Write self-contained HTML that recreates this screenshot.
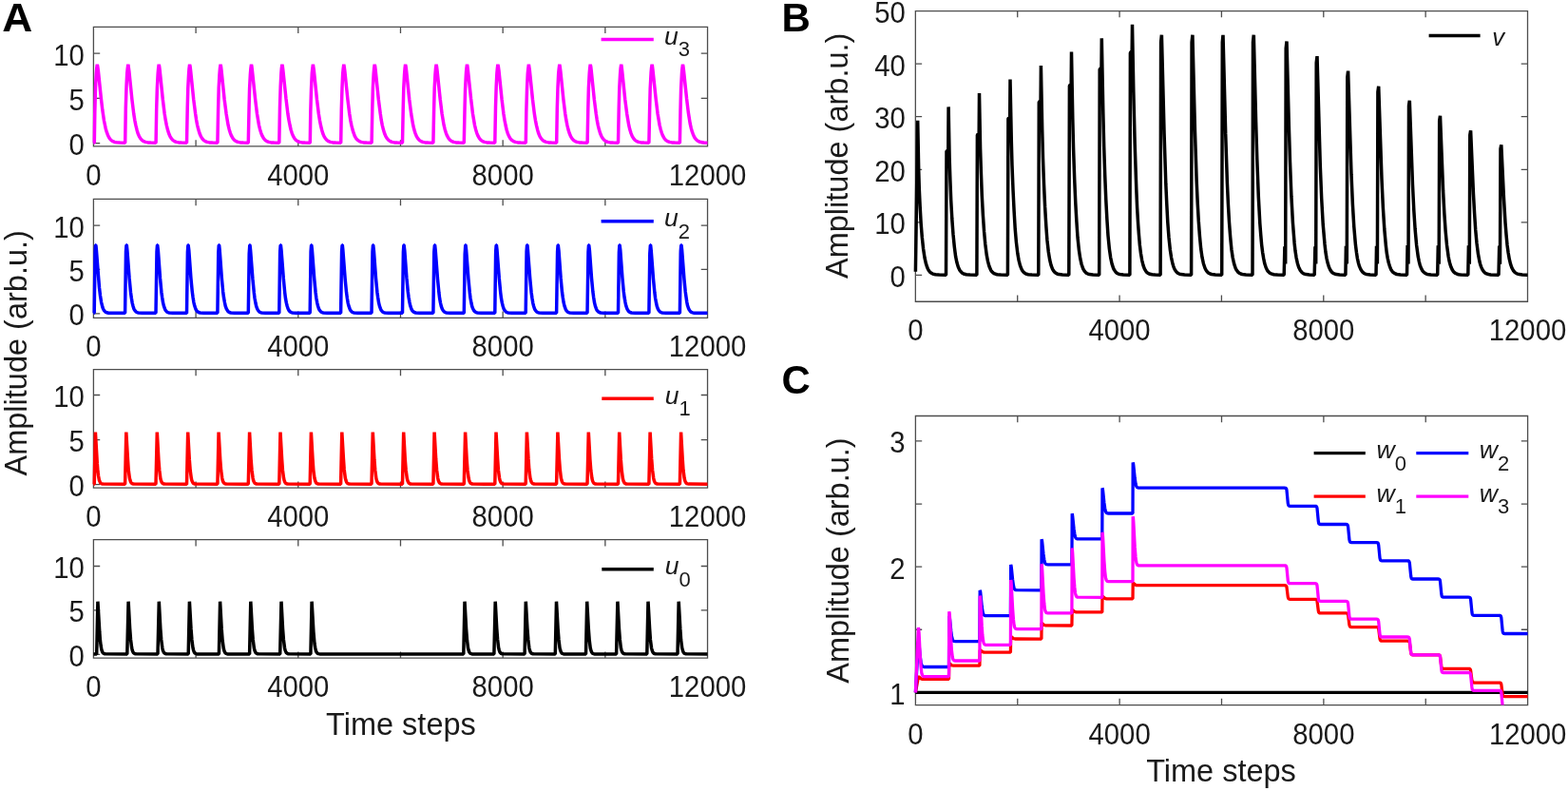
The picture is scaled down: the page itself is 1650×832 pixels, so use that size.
<!DOCTYPE html>
<html><head><meta charset="utf-8"><title>Figure</title>
<style>html,body{margin:0;padding:0;background:#fff;}svg{display:block;}</style></head>
<body><svg width="1650" height="832" viewBox="0 0 1650 832" font-family='"Liberation Sans", Arial, Helvetica, sans-serif'>
<rect width="1650" height="832" fill="#fff"/>
<path d="M98.41 28.29H744.54V153.94H98.41ZM98.41 153.94V147.14M98.41 28.29V35.09M206.10 153.94V147.14M206.10 28.29V35.09M313.79 153.94V147.14M313.79 28.29V35.09M421.48 153.94V147.14M421.48 28.29V35.09M529.16 153.94V147.14M529.16 28.29V35.09M636.85 153.94V147.14M636.85 28.29V35.09M744.54 153.94V147.14M744.54 28.29V35.09M98.41 150.67H105.21M744.54 150.67H737.74M98.41 103.41H105.21M744.54 103.41H737.74M98.41 56.15H105.21M744.54 56.15H737.74" stroke="#4d4d4d" stroke-width="1.3" fill="none" stroke-linejoin="miter"/><path d="M98.4 150.2L99.3 150.2L99.8 117.7L100.5 92.3L101.3 76.9L101.7 72.1L102.3 67.8L102.7 69.6L103.4 74.6L106.2 101.8L107.8 115.6L109.5 127.0L111.2 135.2L112.2 138.7L113.3 141.7L114.5 144.2L115.7 146.1L117.1 147.6L118.8 148.7L120.6 149.4L123.0 149.8L126.3 150.1L131.7 150.2L132.3 113.4L133.0 91.4L133.7 77.2L134.2 72.3L134.8 67.8L135.1 69.4L135.8 74.5L138.9 104.6L140.7 119.4L141.8 126.3L142.9 131.9L144.0 136.4L145.1 140.3L146.4 143.3L147.8 145.7L149.3 147.4L151.2 148.7L153.1 149.4L155.6 149.9L158.8 150.1L164.1 150.2L164.7 114.2L165.4 91.9L166.2 77.2L166.7 71.4L167.2 67.8L167.7 70.1L168.2 74.3L171.3 104.5L173.1 119.3L174.2 126.2L175.3 131.8L176.4 136.4L177.6 140.2L178.9 143.3L180.3 145.7L181.8 147.4L183.6 148.6L185.5 149.4L188.0 149.9L191.2 150.1L196.5 150.2L197.2 114.9L197.8 92.3L198.6 77.6L199.0 72.2L199.6 67.8L200.1 69.9L200.6 74.2L203.7 104.4L205.6 119.2L206.6 126.1L207.7 131.8L208.8 136.3L210.0 140.2L211.3 143.3L212.7 145.6L214.2 147.4L216.0 148.6L217.9 149.4L220.4 149.9L223.7 150.1L228.9 150.2L229.6 115.6L230.2 92.7L231.0 77.8L231.5 71.7L232.1 67.8L232.5 69.8L233.0 74.0L236.1 104.2L238.1 119.8L240.1 131.7L241.2 136.2L242.4 140.1L243.7 143.2L245.1 145.6L246.6 147.3L248.4 148.6L250.4 149.4L252.8 149.9L256.1 150.1L261.3 150.2L262.1 111.6L262.6 93.1L263.4 77.8L263.9 71.9L264.5 67.8L264.9 69.7L265.4 73.9L268.6 104.1L270.5 119.7L272.5 131.6L273.6 136.2L274.8 140.1L276.1 143.2L277.5 145.6L279.0 147.3L280.8 148.6L282.8 149.4L285.2 149.9L288.5 150.1L293.8 150.2L294.5 112.3L295.2 90.8L295.9 76.8L296.3 72.0L296.9 67.8L297.3 69.6L297.8 73.8L301.0 103.9L302.9 119.6L304.0 126.4L305.1 132.0L306.1 136.5L307.3 140.3L308.5 143.2L309.9 145.6L311.4 147.3L313.2 148.6L315.3 149.4L317.8 149.9L321.0 150.1L326.3 150.2L326.8 117.9L327.5 94.0L328.3 77.0L328.8 72.2L329.4 67.8L330.3 73.6L333.5 104.7L335.3 119.5L336.4 126.3L337.5 132.0L338.6 136.5L339.7 140.3L341.0 143.4L342.4 145.7L343.9 147.4L345.8 148.7L347.7 149.4L350.2 149.9L353.4 150.1L358.7 150.2L359.3 115.1L360.0 92.4L360.7 77.2L361.2 72.3L361.8 67.8L362.2 70.1L362.8 74.4L365.9 104.6L367.7 119.3L368.8 126.3L369.9 131.9L371.0 136.4L372.2 140.2L373.4 143.3L374.8 145.7L376.4 147.4L378.2 148.7L380.1 149.4L382.6 149.9L385.8 150.1L391.1 150.2L391.8 114.4L392.4 92.0L393.2 77.4L393.7 71.5L394.2 67.8L394.7 70.0L395.2 74.3L398.3 104.5L400.2 119.2L401.2 126.2L402.3 131.8L403.4 136.3L404.6 140.2L405.9 143.3L407.3 145.7L408.8 147.4L410.6 148.6L412.5 149.4L415.0 149.9L418.2 150.1L423.5 150.2L424.2 115.1L424.8 92.4L425.6 77.7L426.1 71.6L426.6 67.8L427.1 69.9L427.6 74.1L430.7 104.3L432.7 119.9L434.7 131.7L435.8 136.3L437.0 140.1L438.3 143.3L439.7 145.6L441.2 147.4L443.0 148.6L445.0 149.4L447.4 149.9L450.7 150.1L455.9 150.2L456.6 115.9L457.2 92.8L458.0 77.9L458.5 71.8L459.1 67.8L459.5 69.8L460.0 74.0L463.2 104.2L465.1 119.8L467.1 131.7L468.2 136.2L469.4 140.1L470.7 143.2L472.1 145.6L473.6 147.3L475.4 148.6L477.4 149.4L479.8 149.9L483.1 150.1L488.3 150.2L489.1 111.8L489.6 93.3L490.5 76.7L490.9 71.9L491.5 67.8L491.9 69.7L492.4 73.9L495.6 104.0L497.5 119.7L499.5 131.6L500.6 136.2L501.8 140.1L503.1 143.2L504.5 145.6L506.0 147.3L507.8 148.6L509.8 149.4L512.3 149.9L515.5 150.1L520.8 150.2L521.5 112.5L522.2 90.9L522.9 76.9L523.4 71.5L523.9 67.8L524.3 69.6L524.9 73.7L528.1 104.8L529.9 119.5L531.0 126.4L532.1 132.0L533.1 136.5L534.3 140.3L535.5 143.2L536.9 145.6L538.4 147.3L540.3 148.6L542.3 149.4L544.8 149.9L548.0 150.1L553.3 150.2L553.8 118.2L554.5 94.2L555.3 77.1L555.8 72.2L556.4 67.8L557.3 73.6L560.5 104.7L562.3 119.4L563.4 126.3L564.5 131.9L565.6 136.4L566.7 140.3L568.0 143.3L569.4 145.7L570.9 147.4L572.8 148.7L574.7 149.4L577.2 149.9L580.4 150.1L585.7 150.2L586.3 113.9L587.0 91.7L587.7 77.3L588.3 71.4L588.8 67.8L589.2 69.9L589.8 74.4L592.9 104.6L594.7 119.3L595.8 126.2L596.9 131.9L598.0 136.4L599.2 140.2L600.5 143.3L601.9 145.7L603.4 147.4L605.2 148.7L607.1 149.4L609.6 149.9L612.8 150.1L618.1 150.2L618.8 114.7L619.4 92.1L620.2 77.5L620.7 71.5L621.2 67.8L621.7 69.9L622.2 74.2L625.3 104.4L627.2 119.2L628.2 126.1L629.3 131.8L630.4 136.3L631.6 140.2L632.9 143.3L634.3 145.7L635.8 147.4L637.6 148.6L639.5 149.4L642.0 149.9L645.3 150.1L650.5 150.2L651.2 115.4L651.8 92.6L652.6 77.7L653.1 71.7L653.7 67.8L654.1 69.9L654.6 74.1L657.7 104.3L659.7 119.8L661.7 131.7L662.8 136.3L664.0 140.1L665.3 143.3L666.7 145.6L668.2 147.4L670.0 148.6L672.0 149.4L674.4 149.9L677.7 150.1L682.9 150.2L683.7 112.2L684.2 93.0L685.1 76.5L685.5 71.8L686.1 67.8L686.5 69.8L687.0 73.9L690.2 104.1L692.1 119.7L694.1 131.6L695.2 136.2L696.4 140.1L697.7 143.2L699.1 145.6L700.6 147.3L702.4 148.6L704.5 149.4L707.0 149.9L710.2 150.1L715.4 150.2L716.0 116.9L716.6 93.4L717.5 76.7L717.9 72.0L718.5 67.8L718.9 69.7L719.4 73.8L722.6 104.0L724.3 118.1L726.2 130.0L727.3 134.9L728.4 138.7L729.6 142.0L730.9 144.6L732.3 146.5L733.9 148.0L735.7 149.0L737.9 149.6L740.6 150.0L744.5 150.2" stroke="#ff00ff" stroke-width="3.5" fill="none" stroke-linejoin="bevel" stroke-linecap="butt"/><g font-size="31.0" fill="#1a1a1a"><text transform="translate(98.41 194.84) scale(0.945 1)" text-anchor="middle">0</text><text transform="translate(313.79 194.84) scale(0.945 1)" text-anchor="middle">4000</text><text transform="translate(529.16 194.84) scale(0.945 1)" text-anchor="middle">8000</text><text transform="translate(744.54 194.84) scale(0.945 1)" text-anchor="middle">12000</text><text transform="translate(88.91 163.07) scale(0.945 1)" text-anchor="end">0</text><text transform="translate(88.91 115.81) scale(0.945 1)" text-anchor="end">5</text><text transform="translate(88.91 68.56) scale(0.945 1)" text-anchor="end">10</text></g><path d="M632.60 41.39H687.80" stroke="#ff00ff" stroke-width="3.5"/><text x="699.00" y="46.99" font-size="26.6" fill="#1a1a1a"><tspan font-style="italic">u</tspan><tspan font-size="22.0" dy="12.3">3</tspan></text><path d="M98.41 209.40H744.54V334.30H98.41ZM98.41 334.30V327.50M98.41 209.40V216.20M206.10 334.30V327.50M206.10 209.40V216.20M313.79 334.30V327.50M313.79 209.40V216.20M421.48 334.30V327.50M421.48 209.40V216.20M529.16 334.30V327.50M529.16 209.40V216.20M636.85 334.30V327.50M636.85 209.40V216.20M744.54 334.30V327.50M744.54 209.40V216.20M98.41 329.80H105.21M744.54 329.80H737.74M98.41 283.46H105.21M744.54 283.46H737.74M98.41 237.12H105.21M744.54 237.12H737.74" stroke="#4d4d4d" stroke-width="1.3" fill="none" stroke-linejoin="miter"/><path d="M98.4 329.3L99.2 329.3L100.0 269.0L100.1 264.2L100.6 257.8L100.8 257.8L101.0 258.6L101.4 262.8L103.5 290.2L104.5 302.5L105.5 311.0L106.6 317.8L107.9 323.1L108.6 325.0L109.4 326.4L110.3 327.5L111.3 328.3L112.5 328.8L114.1 329.2L117.9 329.3L131.6 329.3L132.5 264.4L133.0 257.8L133.3 257.8L133.9 263.6L136.1 292.7L137.5 307.4L138.3 313.2L139.1 318.3L140.0 321.9L140.9 324.8L141.8 326.4L142.9 327.7L144.2 328.6L145.7 329.0L149.6 329.3L164.0 329.3L165.0 264.7L165.5 257.8L165.7 257.8L166.4 263.7L168.5 292.5L169.9 307.2L170.7 313.1L171.5 318.2L172.4 321.9L173.4 324.7L174.2 326.4L175.3 327.7L176.6 328.6L178.1 329.0L182.0 329.3L196.4 329.3L196.5 328.9L197.4 264.9L197.9 257.8L198.1 257.8L198.8 263.3L200.9 292.3L202.3 307.1L203.1 313.0L203.9 318.1L204.8 321.8L205.8 324.7L206.6 326.4L207.7 327.7L209.0 328.5L210.5 329.0L214.4 329.3L228.9 329.3L229.8 265.7L230.3 257.8L230.6 257.8L231.2 263.3L233.3 292.1L234.7 306.9L235.5 312.9L236.4 318.0L237.2 321.8L238.2 324.6L239.1 326.3L240.1 327.7L241.4 328.5L242.9 329.0L246.8 329.3L261.3 329.3L262.2 267.0L262.8 257.8L263.0 257.8L263.6 263.1L265.9 293.2L267.3 307.7L268.0 313.5L268.9 318.5L269.7 322.1L270.7 324.9L271.6 326.5L272.6 327.7L273.9 328.6L275.4 329.0L279.3 329.3L293.8 329.3L294.6 268.2L294.7 264.3L295.2 257.8L295.4 257.8L296.0 262.9L298.3 293.0L299.7 307.6L300.4 313.4L301.3 318.4L302.2 322.0L303.1 324.8L304.0 326.5L305.1 327.7L306.4 328.6L307.9 329.0L311.7 329.3L326.2 329.3L327.1 264.3L327.6 257.8L327.8 257.8L328.4 262.7L330.7 292.8L332.1 307.5L332.8 313.3L333.7 318.3L334.6 322.0L335.5 324.8L336.4 326.4L337.5 327.7L338.8 328.6L340.3 329.0L344.2 329.3L358.6 329.3L359.6 264.5L360.1 257.8L360.3 257.8L360.8 262.5L363.1 292.6L364.5 307.3L365.3 313.2L366.1 318.3L367.0 321.9L368.0 324.7L368.8 326.4L369.9 327.7L371.2 328.6L372.7 329.0L376.6 329.3L391.0 329.3L392.0 264.7L392.5 257.8L392.7 257.8L393.4 263.6L395.5 292.4L396.9 307.2L397.7 313.1L398.5 318.2L399.4 321.9L400.4 324.7L401.2 326.4L402.3 327.7L403.6 328.6L405.1 329.0L409.0 329.3L423.5 329.3L424.4 264.9L424.9 257.8L425.1 257.8L425.8 263.4L427.9 292.2L429.3 307.0L430.1 313.0L431.0 318.1L431.8 321.8L432.8 324.7L433.6 326.4L434.7 327.7L436.0 328.5L437.5 329.0L441.4 329.3L455.9 329.3L456.8 264.8L457.4 257.8L457.6 257.8L458.2 263.2L460.5 293.3L461.9 307.8L462.6 313.6L463.5 318.6L464.3 322.1L465.3 324.9L466.2 326.5L467.2 327.8L468.5 328.6L470.0 329.0L473.9 329.3L488.3 329.3L489.2 267.4L489.8 257.8L490.0 257.8L490.6 263.0L492.9 293.1L494.3 307.7L495.0 313.5L495.9 318.5L496.7 322.1L497.7 324.8L498.6 326.5L499.7 327.7L500.9 328.6L502.5 329.0L506.3 329.3L520.8 329.3L521.6 268.6L521.7 264.2L522.2 257.8L522.4 257.8L523.0 262.8L525.3 292.9L526.7 307.6L527.4 313.4L528.3 318.4L529.2 322.0L530.1 324.8L531.0 326.4L532.1 327.7L533.4 328.6L534.9 329.0L538.7 329.3L553.2 329.3L554.1 264.4L554.6 257.8L554.9 257.8L555.4 262.6L557.7 292.7L559.1 307.4L559.9 313.2L560.7 318.3L561.6 322.0L562.5 324.8L563.4 326.4L564.5 327.7L565.8 328.6L567.3 329.0L571.2 329.3L585.6 329.3L586.6 264.6L587.1 257.8L587.3 257.8L588.0 263.7L590.1 292.5L591.5 307.3L592.3 313.1L593.1 318.2L594.0 321.9L595.0 324.7L595.8 326.4L596.9 327.7L598.2 328.6L599.7 329.0L603.6 329.3L618.0 329.3L619.0 264.8L619.5 257.8L619.7 257.8L620.4 263.5L622.5 292.3L623.9 307.1L624.7 313.0L625.5 318.2L626.4 321.9L627.4 324.7L628.2 326.4L629.3 327.7L630.6 328.5L632.1 329.0L636.0 329.3L650.5 329.3L651.4 265.3L651.9 257.8L652.1 257.8L652.8 263.3L654.9 292.1L656.3 307.0L657.1 312.9L658.0 318.1L658.8 321.8L659.8 324.7L660.7 326.3L661.7 327.7L663.0 328.5L664.5 329.0L668.4 329.3L682.9 329.3L683.8 266.6L684.4 257.8L684.6 257.8L685.2 263.1L687.5 293.3L688.9 307.8L689.6 313.5L690.5 318.5L691.3 322.1L692.3 324.9L693.2 326.5L694.2 327.8L695.5 328.6L697.0 329.0L700.9 329.3L715.4 329.3L716.2 267.8L716.3 264.0L716.8 257.8L717.0 257.8L717.6 263.0L719.9 293.1L721.2 306.7L722.7 317.3L723.5 321.3L724.4 324.0L725.3 325.9L726.3 327.4L727.5 328.4L728.9 328.9L730.4 329.2L732.6 329.3L744.5 329.3" stroke="#0000ff" stroke-width="3.5" fill="none" stroke-linejoin="bevel" stroke-linecap="butt"/><g font-size="31.0" fill="#1a1a1a"><text transform="translate(98.41 375.20) scale(0.945 1)" text-anchor="middle">0</text><text transform="translate(313.79 375.20) scale(0.945 1)" text-anchor="middle">4000</text><text transform="translate(529.16 375.20) scale(0.945 1)" text-anchor="middle">8000</text><text transform="translate(744.54 375.20) scale(0.945 1)" text-anchor="middle">12000</text><text transform="translate(88.91 342.20) scale(0.945 1)" text-anchor="end">0</text><text transform="translate(88.91 295.86) scale(0.945 1)" text-anchor="end">5</text><text transform="translate(88.91 249.53) scale(0.945 1)" text-anchor="end">10</text></g><path d="M632.60 232.70H687.80" stroke="#0000ff" stroke-width="3.5"/><text x="699.00" y="238.30" font-size="26.6" fill="#1a1a1a"><tspan font-style="italic">u</tspan><tspan font-size="22.0" dy="12.3">2</tspan></text><path d="M98.41 388.56H744.54V513.20H98.41ZM98.41 513.20V506.40M98.41 388.56V395.36M206.10 513.20V506.40M206.10 388.56V395.36M313.79 513.20V506.40M313.79 388.56V395.36M421.48 513.20V506.40M421.48 388.56V395.36M529.16 513.20V506.40M529.16 388.56V395.36M636.85 513.20V506.40M636.85 388.56V395.36M744.54 513.20V506.40M744.54 388.56V395.36M98.41 509.66H105.21M744.54 509.66H737.74M98.41 462.58H105.21M744.54 462.58H737.74M98.41 415.50H105.21M744.54 415.50H737.74" stroke="#4d4d4d" stroke-width="1.3" fill="none" stroke-linejoin="miter"/><path d="M98.4 509.2L99.2 509.2L99.3 506.7L100.4 454.6L102.3 487.4L102.9 495.3L103.6 500.7L104.4 505.0L105.4 507.4L105.9 508.1L106.6 508.6L107.5 509.0L108.5 509.1L131.6 509.2L132.8 454.6L134.4 482.1L135.2 494.0L136.3 502.5L137.0 505.3L137.7 507.2L138.3 508.0L139.0 508.6L139.9 509.0L141.1 509.1L164.0 509.2L165.3 454.6L166.9 483.6L167.8 494.9L168.8 503.0L169.5 505.6L170.2 507.4L170.8 508.1L171.5 508.7L172.4 509.0L173.6 509.1L196.4 509.2L196.5 508.9L197.7 454.6L199.3 483.4L200.2 494.8L201.3 502.9L201.9 505.6L202.7 507.3L203.2 508.1L203.9 508.7L204.8 509.0L206.0 509.1L228.9 509.2L230.1 454.6L231.7 483.1L232.6 494.6L233.7 502.8L234.3 505.5L235.1 507.3L235.6 508.1L236.4 508.6L237.2 509.0L238.4 509.1L261.3 509.2L262.6 454.6L264.1 482.8L265.0 494.4L266.1 502.8L266.7 505.5L267.5 507.3L268.0 508.0L268.8 508.6L269.6 509.0L270.8 509.1L293.8 509.2L295.0 454.6L296.6 482.6L297.4 494.2L298.5 502.7L299.1 505.4L299.9 507.3L300.4 508.0L301.2 508.6L302.0 509.0L303.2 509.1L326.2 509.2L327.4 454.6L329.0 482.3L329.8 494.1L330.9 502.6L331.6 505.4L332.3 507.2L332.8 508.0L333.6 508.6L334.5 509.0L335.6 509.1L358.6 509.2L359.8 454.6L361.4 482.0L362.2 493.9L363.3 502.5L364.0 505.3L364.7 507.2L365.3 508.0L366.0 508.6L366.9 508.9L368.1 509.1L391.0 509.2L392.3 454.6L393.9 483.5L394.8 494.9L395.8 503.0L396.5 505.6L397.2 507.4L397.8 508.1L398.5 508.7L399.4 509.0L400.6 509.1L423.5 509.2L424.7 454.6L426.3 483.3L427.2 494.7L428.3 502.9L428.9 505.5L429.7 507.3L430.2 508.1L431.0 508.7L431.8 509.0L433.0 509.1L455.9 509.2L457.1 454.6L458.7 483.0L459.6 494.5L460.7 502.8L461.3 505.5L462.1 507.3L462.6 508.1L463.4 508.6L464.2 509.0L465.4 509.1L488.3 509.2L489.6 454.6L491.1 482.7L492.0 494.4L493.1 502.7L493.7 505.4L494.5 507.3L495.0 508.0L495.8 508.6L496.6 509.0L497.8 509.1L520.8 509.2L522.0 454.6L523.6 482.5L524.4 494.2L525.5 502.6L526.1 505.4L526.9 507.3L527.4 508.0L528.2 508.6L529.1 509.0L530.2 509.1L553.2 509.2L554.4 454.6L556.0 482.2L556.8 494.0L557.9 502.6L558.6 505.3L559.3 507.2L559.9 508.0L560.6 508.6L561.5 509.0L562.7 509.1L585.6 509.2L586.9 454.6L588.4 481.9L589.3 493.8L590.3 502.5L591.0 505.3L591.7 507.2L592.3 508.0L593.0 508.6L593.9 508.9L595.1 509.1L618.0 509.2L619.3 454.6L620.9 483.4L621.8 494.8L622.9 503.0L623.5 505.6L624.3 507.4L624.8 508.1L625.5 508.7L626.4 509.0L627.6 509.1L650.5 509.2L651.7 454.6L653.3 483.2L654.2 494.6L655.3 502.9L655.9 505.5L656.7 507.3L657.2 508.1L658.0 508.7L658.8 509.0L660.0 509.1L682.9 509.2L684.1 454.6L685.7 482.9L686.6 494.5L687.7 502.8L688.3 505.5L689.1 507.3L689.6 508.0L690.4 508.6L691.2 509.0L692.4 509.1L715.4 509.2L716.6 454.6L718.2 482.7L719.0 494.3L720.1 502.7L720.7 505.4L721.4 507.1L721.9 507.9L722.7 508.6L723.5 508.9L724.6 509.1L744.5 509.2" stroke="#ff0000" stroke-width="3.5" fill="none" stroke-linejoin="bevel" stroke-linecap="butt"/><g font-size="31.0" fill="#1a1a1a"><text transform="translate(98.41 554.10) scale(0.945 1)" text-anchor="middle">0</text><text transform="translate(313.79 554.10) scale(0.945 1)" text-anchor="middle">4000</text><text transform="translate(529.16 554.10) scale(0.945 1)" text-anchor="middle">8000</text><text transform="translate(744.54 554.10) scale(0.945 1)" text-anchor="middle">12000</text><text transform="translate(88.91 522.06) scale(0.945 1)" text-anchor="end">0</text><text transform="translate(88.91 474.98) scale(0.945 1)" text-anchor="end">5</text><text transform="translate(88.91 427.90) scale(0.945 1)" text-anchor="end">10</text></g><path d="M633.30 419.26H687.80" stroke="#ff0000" stroke-width="3.5"/><text x="699.80" y="424.86" font-size="26.6" fill="#1a1a1a"><tspan font-style="italic">u</tspan><tspan font-size="22.0" dy="12.3">1</tspan></text><path d="M98.41 567.60H744.54V692.20H98.41ZM98.41 692.20V685.40M98.41 567.60V574.40M206.10 692.20V685.40M206.10 567.60V574.40M313.79 692.20V685.40M313.79 567.60V574.40M421.48 692.20V685.40M421.48 567.60V574.40M529.16 692.20V685.40M529.16 567.60V574.40M636.85 692.20V685.40M636.85 567.60V574.40M744.54 692.20V685.40M744.54 567.60V574.40M98.41 688.38H105.21M744.54 688.38H737.74M98.41 641.94H105.21M744.54 641.94H737.74M98.41 595.50H105.21M744.54 595.50H737.74" stroke="#4d4d4d" stroke-width="1.3" fill="none" stroke-linejoin="miter"/><path d="M98.4 687.9L101.7 687.9L102.9 632.7L104.8 665.0L105.4 673.3L106.1 678.9L106.9 683.5L107.9 686.0L108.4 686.8L109.1 687.3L109.9 687.7L111.0 687.8L133.8 687.9L135.1 632.7L136.6 660.3L137.5 672.4L138.6 681.1L139.2 684.0L140.0 685.9L140.5 686.7L141.3 687.3L142.1 687.7L143.3 687.8L166.0 687.9L167.3 632.7L168.8 660.8L169.7 672.7L170.8 681.3L171.4 684.1L172.2 685.9L172.7 686.7L173.5 687.3L174.3 687.7L175.5 687.8L198.2 687.9L199.4 632.7L201.0 661.2L201.9 673.0L203.0 681.4L203.6 684.1L204.4 686.0L204.9 686.8L205.7 687.4L206.5 687.7L207.7 687.9L230.4 687.9L231.6 632.7L233.2 661.7L234.1 673.3L235.2 681.5L235.8 684.2L236.6 686.0L237.1 686.8L237.9 687.4L238.7 687.7L239.9 687.9L262.6 687.9L263.8 632.7L265.3 660.3L266.2 672.4L267.3 681.1L267.9 684.0L268.7 685.9L269.2 686.7L270.0 687.3L270.8 687.7L272.0 687.8L294.7 687.9L296.0 632.7L297.5 660.8L298.4 672.7L299.5 681.3L300.1 684.1L300.9 685.9L301.4 686.7L302.2 687.3L303.0 687.7L304.2 687.8L326.9 687.9L328.1 632.7L329.9 664.6L331.0 677.1L331.7 681.4L332.5 684.8L333.5 686.6L334.1 687.2L334.9 687.6L336.4 687.9L339.5 687.9L487.8 687.9L489.0 632.7L490.6 661.7L491.5 673.3L492.5 681.5L493.2 684.2L493.9 686.0L494.5 686.8L495.2 687.4L496.1 687.7L497.3 687.9L519.9 687.9L521.2 632.7L522.7 660.3L523.6 672.4L524.6 681.1L525.3 684.0L526.0 685.9L526.6 686.7L527.3 687.3L528.2 687.7L529.4 687.8L552.1 687.9L553.3 632.7L554.9 660.8L555.8 672.7L556.8 681.3L557.5 684.1L558.2 685.9L558.8 686.7L559.5 687.3L560.4 687.7L561.6 687.8L584.3 687.9L585.5 632.7L587.1 661.2L588.0 673.0L589.0 681.4L589.7 684.1L590.4 686.0L591.0 686.8L591.7 687.4L592.6 687.7L593.8 687.9L616.5 687.9L617.7 632.7L619.3 661.5L620.2 673.3L621.2 681.5L621.9 684.2L622.6 686.0L623.2 686.8L623.9 687.4L624.8 687.7L626.0 687.9L648.6 687.9L649.9 632.7L651.4 660.3L652.3 672.4L653.3 681.1L654.0 684.0L654.7 685.9L655.3 686.7L656.0 687.3L656.9 687.7L658.1 687.8L680.8 687.9L682.0 632.7L683.6 660.8L684.4 672.7L685.5 681.3L686.2 684.1L686.9 685.9L687.5 686.7L688.2 687.3L689.1 687.7L690.3 687.8L713.0 687.9L714.2 632.7L715.8 661.2L716.6 673.0L717.7 681.4L718.4 684.1L719.1 686.0L719.7 686.8L720.4 687.4L721.3 687.7L722.4 687.8L744.5 687.9" stroke="#000000" stroke-width="3.5" fill="none" stroke-linejoin="bevel" stroke-linecap="butt"/><g font-size="31.0" fill="#1a1a1a"><text transform="translate(98.41 733.10) scale(0.945 1)" text-anchor="middle">0</text><text transform="translate(313.79 733.10) scale(0.945 1)" text-anchor="middle">4000</text><text transform="translate(529.16 733.10) scale(0.945 1)" text-anchor="middle">8000</text><text transform="translate(744.54 733.10) scale(0.945 1)" text-anchor="middle">12000</text><text transform="translate(88.91 700.79) scale(0.945 1)" text-anchor="end">0</text><text transform="translate(88.91 654.35) scale(0.945 1)" text-anchor="end">5</text><text transform="translate(88.91 607.90) scale(0.945 1)" text-anchor="end">10</text></g><path d="M633.30 598.80H687.80" stroke="#000000" stroke-width="3.5"/><text x="699.80" y="604.40" font-size="26.6" fill="#1a1a1a"><tspan font-style="italic">u</tspan><tspan font-size="22.0" dy="12.3">0</tspan></text><path d="M963.35 11.54H1607.50V317.26H963.35ZM963.35 317.26V310.46M963.35 11.54V18.34M1070.71 317.26V310.46M1070.71 11.54V18.34M1178.07 317.26V310.46M1178.07 11.54V18.34M1285.42 317.26V310.46M1285.42 11.54V18.34M1392.78 317.26V310.46M1392.78 11.54V18.34M1500.14 317.26V310.46M1500.14 11.54V18.34M1607.50 317.26V310.46M1607.50 11.54V18.34M963.35 289.47H970.15M1607.50 289.47H1600.70M963.35 233.88H970.15M1607.50 233.88H1600.70M963.35 178.30H970.15M1607.50 178.30H1600.70M963.35 122.71H970.15M1607.50 122.71H1600.70M963.35 67.13H970.15M1607.50 67.13H1600.70M963.35 11.54H970.15M1607.50 11.54H1600.70" stroke="#4d4d4d" stroke-width="1.3" fill="none" stroke-linejoin="miter"/><path d="M963.4 285.8L965.7 126.9L966.7 178.8L967.3 198.9L968.1 216.1L969.1 234.4L970.3 249.5L971.6 261.7L973.0 271.0L974.3 276.9L975.7 281.3L976.6 283.2L977.4 284.7L978.4 285.9L979.3 286.8L981.5 288.1L984.4 288.8L988.3 289.1L995.5 289.2L996.0 159.1L997.8 157.8L998.1 112.4L999.1 165.7L999.9 190.0L1000.7 210.5L1001.8 230.0L1003.0 246.4L1004.3 259.6L1005.6 269.7L1006.9 276.1L1008.3 280.8L1009.9 284.2L1010.9 285.6L1011.9 286.6L1012.8 287.3L1014.0 288.0L1016.8 288.7L1020.7 289.1L1027.9 289.2L1028.4 141.9L1030.2 140.4L1030.5 98.0L1031.6 156.8L1032.4 181.5L1033.3 205.7L1034.4 226.4L1035.6 243.9L1036.8 256.9L1038.2 267.9L1039.5 274.9L1040.9 280.0L1042.5 283.8L1043.4 285.3L1044.4 286.4L1045.4 287.2L1046.6 287.9L1049.3 288.7L1053.2 289.1L1060.4 289.2L1060.9 124.7L1062.7 123.0L1063.0 83.5L1064.3 148.3L1065.0 173.8L1066.0 199.3L1067.1 221.6L1068.2 240.5L1069.4 254.6L1070.8 266.4L1072.1 273.9L1073.5 279.4L1075.1 283.4L1076.1 285.0L1077.0 286.2L1078.0 287.0L1079.2 287.8L1080.5 288.3L1082.0 288.7L1085.8 289.1L1092.8 289.2L1093.3 107.4L1095.1 105.6L1095.4 69.1L1096.7 136.0L1097.5 166.3L1098.5 193.4L1099.6 217.2L1100.8 237.3L1101.9 252.4L1103.3 265.0L1104.6 273.0L1106.0 278.8L1107.6 283.1L1108.5 284.6L1109.5 285.9L1110.4 286.8L1111.6 287.6L1112.9 288.2L1114.3 288.6L1118.1 289.0L1124.8 289.2L1125.4 90.2L1127.2 88.2L1127.5 54.6L1128.8 124.8L1129.6 156.7L1130.7 188.6L1131.8 213.7L1132.9 233.2L1134.0 249.5L1135.4 263.1L1136.7 271.7L1138.1 278.0L1139.7 282.6L1140.6 284.3L1141.6 285.7L1142.5 286.7L1143.7 287.5L1145.0 288.1L1146.4 288.6L1150.2 289.0L1156.7 289.2L1157.2 73.0L1159.0 70.8L1159.3 40.2L1160.8 117.7L1161.7 154.3L1162.7 184.0L1163.8 210.3L1164.9 230.8L1166.0 247.8L1167.4 262.1L1168.7 271.1L1170.1 277.6L1171.7 282.4L1172.6 284.1L1173.6 285.5L1174.5 286.6L1175.7 287.5L1177.0 288.1L1178.4 288.5L1182.1 289.0L1188.9 289.2L1189.4 55.7L1191.2 53.4L1191.5 25.7L1192.8 95.3L1194.2 151.7L1195.8 199.1L1196.6 218.1L1197.6 235.3L1198.5 247.4L1199.4 258.0L1200.5 266.8L1201.7 273.8L1203.0 279.1L1204.4 282.9L1206.0 285.5L1206.9 286.6L1208.0 287.4L1210.0 288.3L1212.4 288.8L1215.6 289.1L1221.1 289.2L1221.6 44.4L1222.4 36.8L1225.1 141.6L1226.8 193.2L1227.8 215.0L1228.8 234.1L1230.0 249.9L1231.3 262.4L1232.6 271.1L1234.0 277.5L1234.9 280.3L1235.7 282.5L1236.7 284.3L1237.7 285.6L1238.6 286.6L1239.8 287.5L1241.1 288.1L1242.7 288.6L1246.6 289.0L1253.6 289.2L1254.1 44.4L1254.9 36.8L1257.5 138.9L1259.2 191.2L1260.2 213.4L1261.3 232.9L1262.5 249.0L1263.7 261.8L1265.0 270.7L1266.4 277.2L1268.0 282.0L1269.0 284.0L1270.0 285.4L1270.9 286.5L1272.1 287.4L1273.4 288.0L1275.0 288.5L1278.9 289.0L1285.7 289.2L1286.3 44.4L1287.0 36.8L1289.7 140.9L1291.4 192.6L1292.4 214.6L1293.5 233.8L1294.7 249.7L1295.9 262.2L1297.2 271.0L1298.6 277.4L1300.2 282.2L1301.2 284.1L1302.2 285.5L1303.1 286.5L1304.3 287.4L1305.6 288.0L1307.2 288.5L1311.1 289.0L1318.0 289.2L1318.5 44.4L1319.3 36.8L1321.6 127.7L1322.8 167.6L1324.3 206.9L1325.8 234.8L1326.7 246.6L1327.6 257.1L1328.6 265.2L1329.7 271.9L1330.8 277.3L1332.1 281.3L1333.6 284.4L1334.5 285.6L1335.5 286.6L1336.4 287.3L1337.6 287.9L1340.4 288.7L1344.3 289.1L1351.2 289.2L1351.9 259.4L1352.7 277.5L1353.2 50.9L1354.0 43.5L1356.3 131.2L1357.5 170.2L1358.9 206.2L1360.4 234.2L1362.1 255.7L1363.0 264.1L1364.1 271.1L1365.3 276.7L1366.6 280.9L1368.1 284.1L1369.8 286.3L1371.8 287.8L1374.3 288.6L1377.8 289.0L1383.2 289.2L1383.9 259.2L1384.7 277.5L1385.2 66.0L1386.0 59.1L1389.3 174.5L1390.7 209.0L1392.2 236.0L1394.0 256.7L1394.9 264.9L1396.0 271.6L1397.1 276.6L1398.4 280.8L1399.8 283.9L1401.4 286.1L1402.3 286.9L1403.4 287.6L1406.1 288.6L1409.7 289.0L1415.9 289.2L1416.4 258.9L1417.3 277.5L1417.8 81.1L1418.6 74.6L1422.0 183.2L1423.4 215.2L1424.8 238.6L1426.4 257.3L1427.4 265.3L1428.3 271.3L1429.4 276.4L1430.6 280.4L1432.0 283.6L1433.5 285.8L1434.4 286.7L1435.5 287.5L1436.8 288.1L1438.2 288.5L1441.8 289.0L1448.0 289.2L1448.5 258.9L1449.4 277.5L1449.9 96.7L1450.7 90.7L1454.0 188.5L1455.4 218.8L1456.8 241.0L1458.4 258.8L1459.2 265.6L1460.2 271.6L1461.3 276.5L1462.4 280.1L1463.6 283.2L1465.0 285.4L1466.0 286.4L1467.2 287.3L1468.5 288.0L1470.0 288.5L1473.8 289.0L1480.5 289.2L1481.1 258.0L1481.6 270.3L1482.0 277.7L1482.5 111.3L1483.3 105.8L1486.5 194.5L1487.8 221.0L1489.1 241.0L1490.6 257.7L1492.3 270.2L1493.3 275.1L1494.3 279.1L1495.5 282.2L1496.8 284.6L1497.9 286.0L1499.1 287.0L1500.4 287.8L1501.9 288.4L1505.7 289.0L1512.7 289.2L1513.3 258.2L1513.8 270.4L1514.2 277.8L1514.7 126.9L1515.5 121.9L1518.6 200.7L1519.8 223.5L1521.1 242.6L1522.5 257.7L1524.1 269.5L1524.9 274.0L1525.9 277.9L1527.0 281.1L1528.1 283.5L1529.1 285.2L1530.3 286.5L1531.7 287.5L1533.3 288.2L1535.1 288.7L1537.4 289.0L1544.8 289.2L1545.4 258.3L1545.9 270.4L1546.3 277.8L1546.8 142.0L1547.6 137.4L1550.5 204.7L1551.6 224.5L1552.7 241.7L1554.0 255.9L1555.4 266.9L1556.9 275.0L1557.8 278.3L1558.8 281.1L1559.9 283.6L1561.2 285.5L1562.6 286.9L1564.3 287.9L1566.3 288.5L1568.7 288.9L1577.0 289.2L1577.7 258.5L1578.1 270.6L1578.5 277.9L1579.0 156.6L1579.8 152.4L1582.4 207.1L1584.0 234.1L1585.0 246.5L1586.0 257.4L1587.1 265.8L1588.3 272.7L1589.5 277.6L1590.9 281.7L1592.4 284.5L1594.2 286.6L1596.2 287.9L1598.7 288.6L1602.0 289.0L1607.5 289.2" stroke="#000000" stroke-width="3.5" fill="none" stroke-linejoin="bevel" stroke-linecap="butt"/><g font-size="31.0" fill="#1a1a1a"><text transform="translate(963.35 358.16) scale(0.945 1)" text-anchor="middle">0</text><text transform="translate(1178.07 358.16) scale(0.945 1)" text-anchor="middle">4000</text><text transform="translate(1392.78 358.16) scale(0.945 1)" text-anchor="middle">8000</text><text transform="translate(1607.50 358.16) scale(0.945 1)" text-anchor="middle">12000</text><text transform="translate(952.75 301.87) scale(0.945 1)" text-anchor="end">0</text><text transform="translate(952.75 246.29) scale(0.945 1)" text-anchor="end">10</text><text transform="translate(952.75 190.70) scale(0.945 1)" text-anchor="end">20</text><text transform="translate(952.75 135.12) scale(0.945 1)" text-anchor="end">30</text><text transform="translate(952.75 79.53) scale(0.945 1)" text-anchor="end">40</text><text transform="translate(952.75 23.95) scale(0.945 1)" text-anchor="end">50</text></g><path d="M1503.60 37.60H1557.60" stroke="#000000" stroke-width="3.5"/><text x="1570.20" y="47.90" font-size="25.8" font-style="italic" fill="#1a1a1a">v</text><path d="M963.40 437.50H1607.60V741.60H963.40ZM963.40 741.60V734.80M963.40 437.50V444.30M1070.77 741.60V734.80M1070.77 437.50V444.30M1178.13 741.60V734.80M1178.13 437.50V444.30M1285.50 741.60V734.80M1285.50 437.50V444.30M1392.87 741.60V734.80M1392.87 437.50V444.30M1500.23 741.60V734.80M1500.23 437.50V444.30M1607.60 741.60V734.80M1607.60 437.50V444.30M963.40 728.38H970.20M1607.60 728.38H1600.80M963.40 662.27H970.20M1607.60 662.27H1600.80M963.40 596.16H970.20M1607.60 596.16H1600.80M963.40 530.05H970.20M1607.60 530.05H1600.80M963.40 463.94H970.20M1607.60 463.94H1600.80" stroke="#4d4d4d" stroke-width="1.3" fill="none" stroke-linejoin="miter"/><clipPath id="cc"><rect x="900" y="437.50" width="750" height="304.10"/></clipPath><path d="M963.4 728.4L1607.6 728.4" stroke="#000000" stroke-width="3.3" fill="none" stroke-linejoin="bevel" stroke-linecap="butt" clip-path="url(#cc)"/><path d="M963.4 728.4L966.4 711.9L967.1 712.1L969.1 713.8L970.8 714.3L998.5 714.3L998.8 697.8L999.5 698.1L1001.4 699.7L1002.3 700.0L1003.2 700.2L1030.9 700.2L1031.2 683.7L1031.8 683.9L1033.8 685.6L1035.6 686.1L1063.4 686.1L1063.7 669.6L1064.3 669.9L1066.4 671.6L1068.1 672.0L1095.9 672.1L1096.1 655.5L1096.7 655.8L1098.8 657.5L1100.5 657.9L1127.9 658.0L1128.2 641.4L1128.7 641.7L1130.8 643.4L1132.5 643.8L1159.8 643.9L1160.0 627.4L1160.6 627.6L1162.7 629.3L1164.4 629.8L1192.0 629.8L1192.2 613.3L1192.8 613.5L1194.2 614.8L1195.1 615.3L1196.1 615.6L1197.6 615.7L1351.4 615.7L1352.9 615.8L1353.6 616.4L1354.0 617.6L1355.3 628.1L1355.8 629.6L1356.4 630.2L1357.7 630.3L1383.4 630.3L1385.0 630.5L1385.6 630.9L1386.0 632.2L1387.3 642.5L1387.7 644.1L1388.4 644.8L1390.0 644.9L1416.1 644.9L1417.7 645.1L1418.2 645.6L1418.6 646.9L1419.9 657.3L1420.4 658.8L1420.9 659.4L1422.3 659.6L1448.2 659.6L1449.8 659.7L1450.3 660.2L1450.7 661.6L1452.0 671.9L1452.5 673.4L1453.0 674.0L1454.4 674.2L1480.7 674.2L1482.3 674.3L1482.8 674.7L1483.3 675.9L1484.7 686.7L1485.1 688.1L1485.6 688.6L1487.0 688.8L1512.9 688.8L1514.5 688.9L1515.1 689.4L1515.5 690.5L1516.8 700.8L1517.2 702.5L1517.8 703.2L1519.2 703.4L1545.0 703.4L1546.6 703.5L1547.2 704.0L1547.6 705.2L1548.9 715.4L1549.3 717.1L1549.9 717.8L1551.3 718.0L1578.7 718.1L1579.4 718.6L1579.8 719.7L1581.1 730.1L1581.5 731.7L1582.0 732.4L1583.5 732.6L1607.6 732.6" stroke="#ff0000" stroke-width="3.3" fill="none" stroke-linejoin="bevel" stroke-linecap="butt" clip-path="url(#cc)"/><path d="M963.4 728.4L966.4 674.8L966.7 675.8L967.1 677.9L968.3 690.7L969.1 696.3L969.8 699.4L970.3 700.3L970.8 701.0L971.6 701.3L973.0 701.5L998.5 701.5L998.8 647.9L999.2 649.0L999.5 651.2L1000.8 664.0L1001.4 668.9L1002.3 672.5L1002.7 673.5L1003.2 674.1L1004.0 674.4L1005.4 674.6L1030.9 674.6L1031.2 621.0L1031.5 621.6L1031.8 623.6L1033.2 637.3L1033.8 642.1L1034.6 645.4L1035.0 646.4L1035.6 647.1L1036.4 647.5L1037.7 647.7L1063.4 647.7L1063.7 594.1L1064.0 594.9L1064.3 597.0L1065.6 609.7L1066.4 615.4L1067.1 618.6L1067.5 619.6L1068.1 620.2L1068.8 620.6L1070.2 620.7L1095.9 620.8L1096.1 567.2L1096.4 568.1L1096.7 570.2L1098.0 583.0L1098.8 588.6L1099.5 591.7L1100.0 592.7L1100.5 593.3L1101.3 593.7L1102.7 593.8L1127.9 593.8L1128.2 540.3L1128.4 540.9L1128.7 542.9L1130.1 556.5L1130.8 561.3L1131.5 564.7L1132.0 565.7L1132.5 566.4L1133.4 566.8L1134.6 566.9L1159.8 566.9L1160.0 513.4L1160.3 514.2L1160.6 516.2L1161.9 528.9L1162.7 534.6L1163.4 537.9L1163.9 538.8L1164.4 539.5L1165.1 539.9L1166.5 540.0L1192.0 540.0L1192.2 486.5L1192.5 487.3L1192.8 489.4L1194.2 503.1L1195.1 508.9L1195.5 510.7L1196.1 511.9L1196.7 512.7L1197.6 513.0L1351.4 513.1L1352.9 513.3L1353.6 513.9L1354.0 515.6L1355.3 529.4L1355.8 531.4L1356.4 532.1L1357.7 532.3L1383.4 532.3L1385.0 532.5L1385.6 533.1L1386.0 534.7L1387.3 548.3L1387.7 550.4L1388.0 551.0L1388.4 551.3L1390.0 551.5L1416.1 551.5L1417.7 551.7L1418.2 552.4L1418.6 554.1L1419.9 567.7L1420.4 569.6L1420.9 570.4L1422.3 570.6L1448.2 570.6L1449.8 570.9L1450.3 571.5L1450.7 573.3L1452.0 586.9L1452.5 588.8L1453.0 589.6L1454.4 589.8L1480.7 589.8L1482.3 590.0L1482.8 590.5L1483.3 592.0L1484.7 606.2L1485.1 608.0L1485.6 608.8L1487.0 609.0L1512.9 609.0L1514.5 609.2L1515.1 609.7L1515.5 611.3L1516.8 624.8L1517.2 627.0L1517.5 627.7L1517.8 627.9L1519.2 628.2L1545.0 628.2L1546.6 628.3L1547.2 628.9L1547.6 630.5L1548.9 643.9L1549.3 646.2L1549.9 647.1L1551.3 647.3L1577.2 647.3L1578.7 647.5L1579.4 648.1L1579.8 649.6L1581.1 663.2L1581.5 665.3L1582.0 666.2L1582.6 666.4L1583.5 666.5L1607.6 666.5" stroke="#0000ff" stroke-width="3.3" fill="none" stroke-linejoin="bevel" stroke-linecap="butt" clip-path="url(#cc)"/><path d="M963.4 728.4L966.4 660.0L966.7 661.8L967.1 666.1L968.3 690.8L969.1 701.6L969.8 707.7L970.3 709.5L970.8 710.7L971.6 711.4L973.0 711.7L998.5 711.7L998.8 643.3L999.2 645.4L999.5 649.7L1000.8 674.5L1001.4 684.0L1002.3 691.1L1002.7 692.9L1003.2 694.1L1004.0 694.8L1005.4 695.0L1030.9 695.0L1031.2 626.7L1031.5 627.9L1031.8 631.7L1033.2 658.2L1033.8 667.5L1034.6 673.9L1035.0 675.9L1035.6 677.3L1036.4 678.1L1037.7 678.3L1063.4 678.3L1063.7 610.0L1064.0 611.4L1064.3 615.5L1065.6 640.1L1066.4 651.2L1067.1 657.4L1067.5 659.3L1068.1 660.6L1068.8 661.4L1070.2 661.6L1095.9 661.6L1096.1 593.3L1096.4 595.0L1096.7 599.1L1098.0 623.8L1098.8 634.8L1099.5 640.9L1100.0 642.7L1100.5 644.0L1101.3 644.7L1102.7 644.9L1127.9 644.9L1128.2 576.6L1128.4 577.8L1128.7 581.6L1130.1 608.0L1130.8 617.4L1131.5 623.8L1132.0 625.8L1132.5 627.2L1133.4 628.0L1134.6 628.2L1159.8 628.3L1160.0 559.9L1160.3 561.4L1160.6 565.4L1161.9 590.1L1162.7 601.1L1163.4 607.4L1163.9 609.3L1164.4 610.6L1165.1 611.3L1166.5 611.6L1192.0 611.6L1192.2 543.2L1192.5 544.8L1192.8 548.9L1194.2 575.4L1195.0 585.7L1195.4 589.4L1196.0 592.2L1196.6 593.9L1197.4 594.6L1198.2 594.8L1199.9 594.9L1351.4 594.9L1352.9 595.0L1353.6 595.7L1354.0 597.3L1355.3 610.8L1355.8 612.7L1356.4 613.5L1357.7 613.7L1383.4 613.7L1385.0 613.9L1385.6 614.5L1386.0 616.0L1387.3 629.3L1387.7 631.4L1388.0 632.0L1388.4 632.2L1390.0 632.4L1416.1 632.4L1417.7 632.6L1418.2 633.3L1418.6 635.0L1419.9 648.3L1420.4 650.2L1420.9 651.0L1422.3 651.2L1448.2 651.2L1449.8 651.4L1450.3 652.1L1450.7 653.8L1452.0 667.1L1452.5 669.0L1453.0 669.8L1454.4 670.0L1480.7 670.0L1482.3 670.2L1482.8 670.7L1483.3 672.2L1484.7 686.1L1485.1 687.8L1485.6 688.6L1487.0 688.8L1512.9 688.8L1514.5 688.9L1515.1 689.5L1515.5 691.0L1516.8 704.2L1517.2 706.4L1517.5 707.0L1517.8 707.3L1519.2 707.5L1545.0 707.5L1546.6 707.7L1547.2 708.3L1547.6 709.9L1548.9 723.0L1549.3 725.2L1549.9 726.1L1551.3 726.3L1577.2 726.3L1578.7 726.4L1579.4 727.1L1579.8 728.6L1581.1 741.8L1581.5 744.0L1582.0 744.8L1582.6 745.0L1583.5 745.1L1607.6 745.1" stroke="#ff00ff" stroke-width="3.3" fill="none" stroke-linejoin="bevel" stroke-linecap="butt" clip-path="url(#cc)"/><g font-size="31.0" fill="#1a1a1a"><text transform="translate(963.40 782.50) scale(0.945 1)" text-anchor="middle">0</text><text transform="translate(1178.13 782.50) scale(0.945 1)" text-anchor="middle">4000</text><text transform="translate(1392.87 782.50) scale(0.945 1)" text-anchor="middle">8000</text><text transform="translate(1607.60 782.50) scale(0.945 1)" text-anchor="middle">12000</text><text transform="translate(952.60 740.78) scale(0.945 1)" text-anchor="end">1</text><text transform="translate(952.60 608.57) scale(0.945 1)" text-anchor="end">2</text><text transform="translate(952.60 476.35) scale(0.945 1)" text-anchor="end">3</text></g><path d="M1382.60 476.60H1436.80" stroke="#000000" stroke-width="3.3"/><text x="1448.50" y="482.20" font-size="26.6" fill="#1a1a1a"><tspan font-style="italic">w</tspan><tspan font-size="22.0" dy="12.3">0</tspan></text><path d="M1490.30 476.60H1545.30" stroke="#0000ff" stroke-width="3.3"/><text x="1556.80" y="482.20" font-size="26.6" fill="#1a1a1a"><tspan font-style="italic">w</tspan><tspan font-size="22.0" dy="12.3">2</tspan></text><path d="M1382.60 522.20H1436.80" stroke="#ff0000" stroke-width="3.3"/><text x="1448.50" y="527.80" font-size="26.6" fill="#1a1a1a"><tspan font-style="italic">w</tspan><tspan font-size="22.0" dy="12.3">1</tspan></text><path d="M1490.30 522.20H1545.30" stroke="#ff00ff" stroke-width="3.3"/><text x="1556.80" y="527.80" font-size="26.6" fill="#1a1a1a"><tspan font-style="italic">w</tspan><tspan font-size="22.0" dy="12.3">3</tspan></text><g font-size="32.5" fill="#1a1a1a" text-anchor="middle"><text x="421.95" y="773.4">Time steps</text><text x="1285.0" y="822.4">Time steps</text><text transform="translate(27.6 371.3) rotate(-90)">Amplitude (arb.u.)</text><text transform="translate(892.4 163.8) rotate(-90)">Amplitude (arb.u.)</text><text transform="translate(893.4 589.5) rotate(-90)">Amplitude (arb.u.)</text></g><g font-size="42" font-weight="bold" fill="#000"><text transform="translate(2.3 33) scale(1.03 1)" font-size="43">A</text><text x="822.5" y="32.5">B</text><text x="822.5" y="414">C</text></g>
</svg></body></html>
